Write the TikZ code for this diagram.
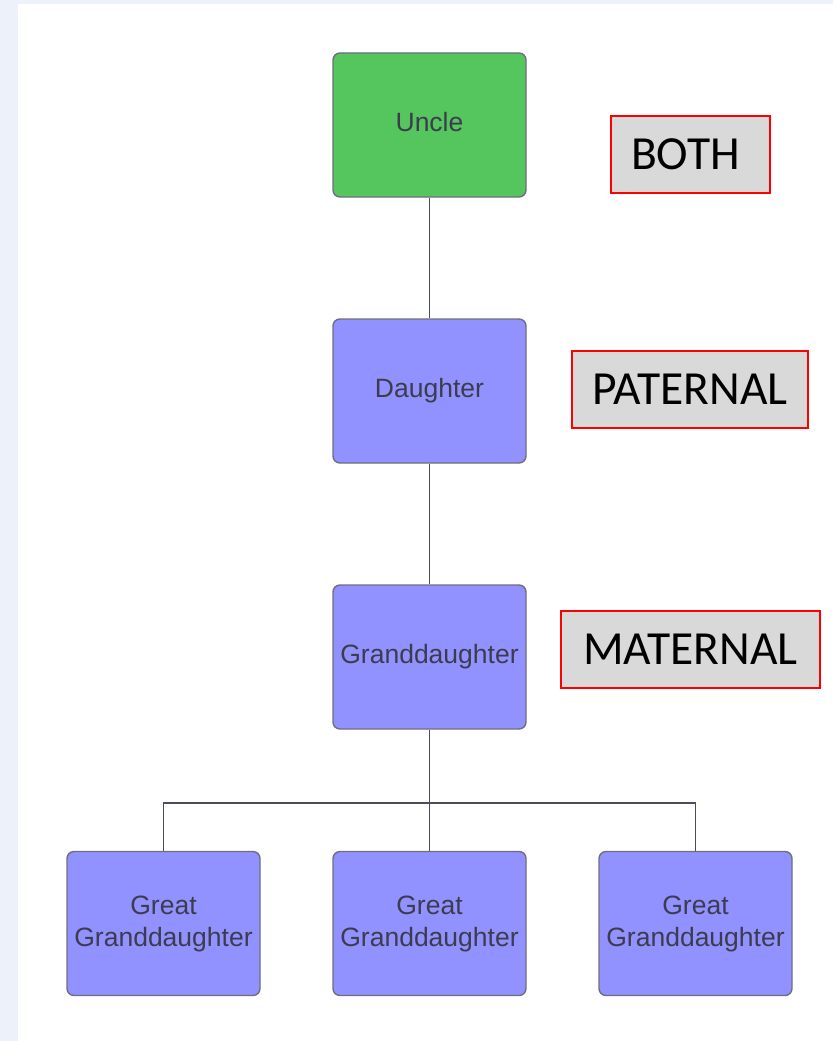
\documentclass[tikz,border=0pt]{standalone}
\usepackage{fontspec}
\setmainfont{Liberation Sans}
\newfontfamily\calib{Carlito}
\definecolor{pagebg}{HTML}{EDF1F9}
\definecolor{boxline}{HTML}{6E6E80}
\definecolor{purplefill}{HTML}{9191FF}
\definecolor{greenfill}{HTML}{55C65E}
\definecolor{txtgrey}{HTML}{3C3C4E}
\definecolor{wirecol}{HTML}{4C4C5C}
\definecolor{tagfill}{HTML}{D9D9D9}
\begin{document}
\begin{tikzpicture}[x=1pt,y=-1pt,
  person/.style={draw=boxline, line width=1.4pt, rounded corners=7pt,
    minimum width=193pt, minimum height=144pt, inner sep=0pt,
    font=\fontsize{26.5}{32}\selectfont, text=txtgrey, align=center},
  pbox/.style={person, fill=purplefill},
  gbox/.style={person, fill=greenfill},
  tag/.style={draw=red, line width=1.3pt, fill=tagfill, inner sep=0pt,
    minimum height=77pt, font=\calib\fontsize{47.5}{56}\selectfont, text=black},
  wire/.style={draw=wirecol, line width=1.3pt}
]
\useasboundingbox (0,0) rectangle (833,1041);
\fill[pagebg] (0,0) rectangle (833,1041);
\fill[white] (18,4) rectangle (833,1041);

\node[gbox] (uncle) at (429.5,125) {\raisebox{6pt}{Uncle}};
\node[pbox] (daughter) at (429.5,391) {\raisebox{6pt}{Daughter}};
\node[pbox] (grand) at (429.5,657) {\raisebox{6pt}{Granddaughter}};
\node[pbox] (gg1) at (163.5,923.5) {Great\\Granddaughter};
\node[pbox] (gg2) at (429.5,923.5) {Great\\Granddaughter};
\node[pbox] (gg3) at (695.5,923.5) {Great\\Granddaughter};

\node[tag, minimum width=159pt] (both) at (690.5,154.5) {\hspace*{-10pt}BOTH};
\node[tag, minimum width=236pt] (pat) at (690,389.5) {PATERNAL};
\node[tag, minimum width=259pt] (mat) at (690.5,649.5) {MATERNAL};

\coordinate (bus) at (429.5,803);
\path[wire] (uncle.south) -- (daughter.north);
\path[wire] (daughter.south) -- (grand.north);
\path[wire] (grand.south) -- (bus);
\path[wire] (gg1.north) |- (bus) -| (gg3.north);
\path[wire] (bus) -- (gg2.north);
\end{tikzpicture}
\end{document}
